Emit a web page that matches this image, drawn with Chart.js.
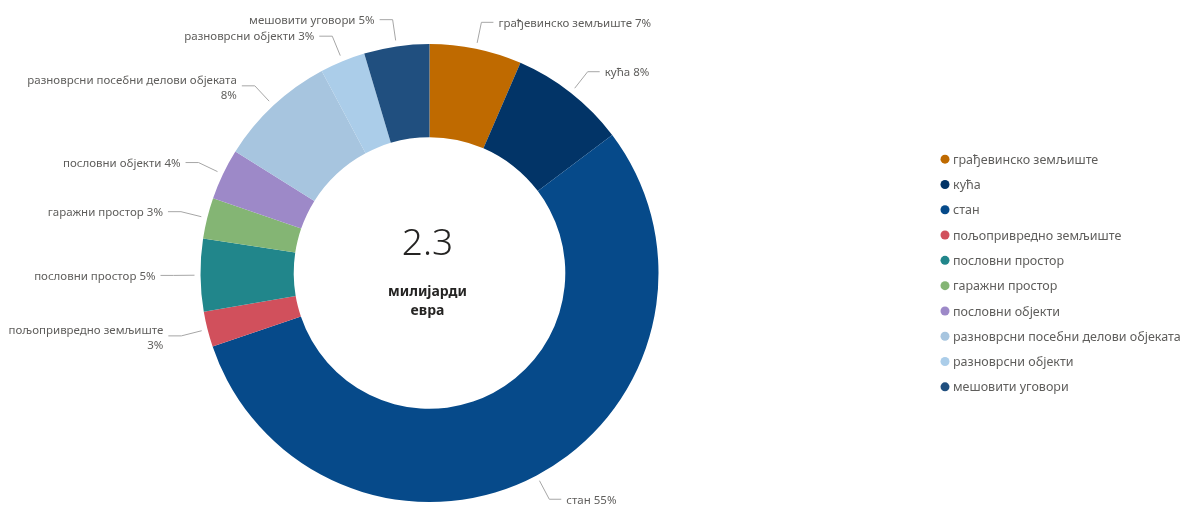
<!DOCTYPE html>
<html lang="sr">
<head>
<meta charset="utf-8">
<title>Промет непокретности</title>
<script src="https://cdn.jsdelivr.net/npm/chart.js@4.4.1/dist/chart.umd.min.js"></script>
<style>
  html, body { margin: 0; padding: 0; background: #fff; }
  #okvir { width: 1195px; height: 507px; }
</style>
</head>
<body>
<div id="okvir"><canvas id="grafik" width="1195" height="507"></canvas></div>
<script>
/* =========================
   Структура промета по врсти непокретности
========================= */

const VRSTE = [
  'грађевинско земљиште', 'кућа', 'стан', 'пољопривредно земљиште',
  'пословни простор', 'гаражни простор', 'пословни објекти',
  'разноврсни посебни делови објеката', 'разноврсни објекти', 'мешовити уговори'
];
const UDELI = [6.5, 8.2, 55.1, 2.5, 5.1, 2.9, 3.6, 8.3, 3.2, 4.6]; // %
const BOJE = [
  '#bf6a00', '#023467', '#064a8a', '#d1505c', '#21868b',
  '#84b574', '#9d89c8', '#a7c5df', '#abcde9', '#204f7f'
];
const UKUPNO = '2.3';
const JEDINICA = ['милијарди', 'евра'];

const FONT = '"Noto Sans", "Open Sans", sans-serif';
const SIVA_TEKST = '#5f5e5c';
const SIVA_LINIJA = '#a6a6a6';

// Тексти у средини прстена
const sredina = {
  id: 'sredina',
  afterDraw(chart) {
    const luk = chart.getDatasetMeta(0).data[0];
    if (!luk) return;
    const { x, y } = luk;
    const ctx = chart.ctx;
    ctx.save();
    ctx.textAlign = 'center';
    ctx.textBaseline = 'middle';
    ctx.fillStyle = '#252423';
    ctx.font = '300 37px ' + FONT;
    ctx.fillText(UKUPNO, x - 2, y - 29);
    ctx.font = 'bold 14px ' + FONT;
    ctx.fillText(JEDINICA[0], x - 2, y + 19);
    ctx.fillText(JEDINICA[1], x - 2, y + 38);
    ctx.restore();
  }
};

// Ознаке са линијама изван прстена
const spoljneOznake = {
  id: 'spoljneOznake',
  afterDatasetsDraw(chart) {
    const ctx = chart.ctx;
    const meta = chart.getDatasetMeta(0);
    const zbir = UDELI.reduce((a, b) => a + b, 0);
    ctx.save();
    ctx.font = '11.5px ' + FONT;
    ctx.lineWidth = 1;
    ctx.strokeStyle = SIVA_LINIJA;
    ctx.fillStyle = SIVA_TEKST;
    ctx.textBaseline = 'middle';

    meta.data.forEach((luk, i) => {
      const { x, y, startAngle, endAngle, outerRadius } =
        luk.getProps(['x', 'y', 'startAngle', 'endAngle', 'outerRadius'], true);
      const ugao = (startAngle + endAngle) / 2;
      const cos = Math.cos(ugao), sin = Math.sin(ugao);
      const desno = cos >= 0;

      const x0 = x + cos * (outerRadius + 6), y0 = y + sin * (outerRadius + 6);
      const x1 = x + cos * (outerRadius + 27), y1 = y + sin * (outerRadius + 27);
      const x2 = x1 + (desno ? 12 : -13);

      ctx.beginPath();
      ctx.moveTo(x0, y0);
      ctx.lineTo(x1, y1);
      ctx.lineTo(x2, y1);
      ctx.stroke();

      const procenat = Math.round(UDELI[i] / zbir * 100) + '%';
      const ceo = VRSTE[i] + ' ' + procenat;
      const tx = x2 + (desno ? 5 : -5);
      ctx.textAlign = desno ? 'left' : 'right';

      if (ctx.measureText(ceo).width > 155) {
        ctx.fillText(VRSTE[i], tx, y1 - 5);
        ctx.fillText(procenat, tx, y1 + 10);
      } else {
        ctx.fillText(ceo, tx, y1 + 1);
      }
    });
    ctx.restore();
  }
};

// Легенда десно
const legenda = {
  id: 'legenda',
  afterDraw(chart) {
    const ctx = chart.ctx;
    const korak = 25.3;
    const x = 945;
    const y0 = chart.chartArea.top + chart.chartArea.height / 2 - korak * (VRSTE.length - 1) / 2;
    ctx.save();
    ctx.font = '12.5px ' + FONT;
    ctx.textAlign = 'left';
    ctx.textBaseline = 'middle';
    VRSTE.forEach((vrsta, i) => {
      const y = y0 + i * korak;
      ctx.beginPath();
      ctx.arc(x, y, 4.5, 0, Math.PI * 2);
      ctx.fillStyle = BOJE[i];
      ctx.fill();
      ctx.fillStyle = SIVA_TEKST;
      ctx.fillText(vrsta, x + 8, y + 1);
    });
    ctx.restore();
  }
};

new Chart(document.getElementById('grafik'), {
  type: 'doughnut',
  data: {
    labels: VRSTE,
    datasets: [{
      data: UDELI,
      backgroundColor: BOJE,
      borderWidth: 0
    }]
  },
  options: {
    responsive: false,
    animation: false,
    cutout: '59.3%',
    layout: { padding: { left: 0, right: 336, top: 44, bottom: 5 } },
    plugins: {
      legend: { display: false },
      tooltip: { enabled: false }
    }
  },
  plugins: [sredina, spoljneOznake, legenda]
});
</script>
</body>
</html>
